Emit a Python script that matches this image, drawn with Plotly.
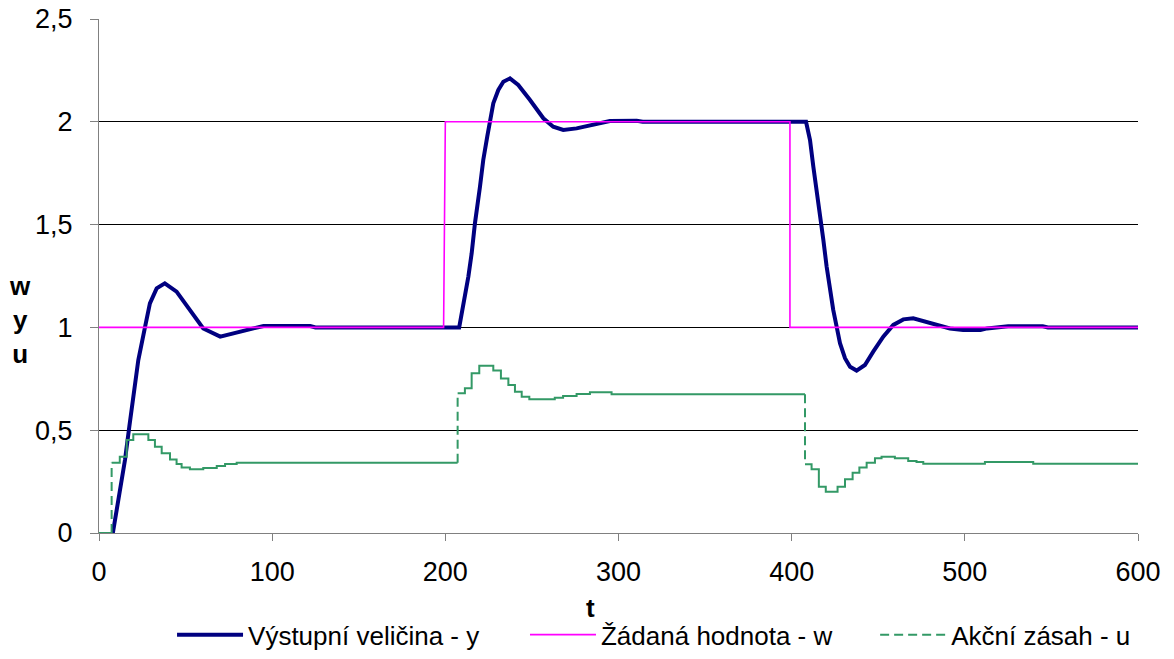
import plotly.graph_objects as go

# ---- data ----
t_y = [8, 12, 15, 17.5, 20, 22.7, 26.6, 29.4, 33.3, 38, 44.8, 52.5, 60.2, 70, 79.5, 89, 95, 122, 125, 208,
       210.4, 213.3, 215.2, 217.1, 220, 221.9, 224.2, 225.8, 227.7, 230.6, 233.5, 237.3, 242.1, 248.9, 256.6,
       262.3, 268.1, 275.8, 283.5, 295, 310.5, 314, 408.3, 410.6, 412.5, 414.4, 416.4, 418.3, 420.2, 422.1,
       424, 426, 427.9, 430.8, 433.7, 437.5, 442.3, 447.1, 452.9, 458.7, 464.5, 470.2, 477.9, 485.6, 491.4,
       499, 509, 512.9, 525, 545, 548, 600]
y_vals = [0, 0.195, 0.355, 0.517, 0.679, 0.841, 1.003, 1.117, 1.19, 1.214, 1.174, 1.085, 0.995, 0.955, 0.974,
          0.995, 1.007, 1.007, 1.0, 1.0, 1.101, 1.247, 1.36, 1.506, 1.684, 1.814, 1.928, 2.0, 2.09, 2.155,
          2.195, 2.211, 2.179, 2.106, 2.017, 1.976, 1.96, 1.968, 1.984, 2.004, 2.005, 2.0, 2.0, 1.911, 1.782,
          1.668, 1.571, 1.425, 1.295, 1.182, 1.085, 1.003, 0.923, 0.85, 0.809, 0.79, 0.817, 0.882, 0.955,
          1.012, 1.039, 1.044, 1.028, 1.007, 0.995, 0.987, 0.987, 0.995, 1.005, 1.005, 1.0, 1.0]

t_w = [0, 199, 200, 399, 399, 600]
w_vals = [1, 1, 2, 2, 1, 1]

t_u = [0, 7.3, 12, 16, 19.8, 28.5, 32.3, 36.2, 41, 44.8, 47.7, 52.5, 60.2, 68, 72.8, 79.5, 207.1, 211.3,
       215.2, 219.6, 227.7, 232.1, 236.4, 240.2, 244.1, 248.5, 263.2, 268, 275.8, 283.5, 296, 407.7, 411.5,
       415.7, 419.7, 426.5, 430.8, 435.2, 439.1, 443.3, 448.1, 451.9, 459.6, 467.3, 472.1, 476, 511.6,
       539.5, 600]
u_vals = [0, 0.342, 0.371, 0.452, 0.48, 0.452, 0.42, 0.388, 0.358, 0.336, 0.319, 0.31, 0.316, 0.326, 0.336,
          0.342, 0.68, 0.704, 0.777, 0.814, 0.79, 0.752, 0.72, 0.687, 0.663, 0.65, 0.658, 0.666, 0.676, 0.684,
          0.675, 0.334, 0.31, 0.225, 0.201, 0.225, 0.261, 0.293, 0.318, 0.342, 0.363, 0.371, 0.363, 0.35,
          0.345, 0.337, 0.345, 0.337, 0.337]

x_ticks = [0, 100, 200, 300, 400, 500, 600]
y_ticks = [0, 0.5, 1, 1.5, 2, 2.5]

names = ["Výstupní veličina - y", "Žádaná hodnota - w", "Akční zásah - u"]
NAVY, MAGENTA, GREEN = "#000080", "#FF00FF", "#339966"
FONT = "Liberation Sans, Arial, sans-serif"

# staircase for u: small steps solid, large jumps dashed
sx, sy, dx, dy = [t_u[0]], [u_vals[0]], [], []
for i in range(1, len(t_u)):
    prev = u_vals[i - 1]
    if abs(u_vals[i] - prev) > 0.2:
        sx += [t_u[i], None, t_u[i]]
        sy += [prev, None, u_vals[i]]
        dx += [t_u[i], t_u[i], None]
        dy += [prev, u_vals[i], None]
    else:
        sx += [t_u[i], t_u[i]]
        sy += [prev, u_vals[i]]

fig = go.Figure()
fig.add_trace(go.Scatter(x=t_y, y=y_vals, mode="lines", name=names[0], legend="legend",
                         line=dict(color=NAVY, width=4)))
fig.add_trace(go.Scatter(x=t_w, y=w_vals, mode="lines", name=names[1], legend="legend2",
                         line=dict(color=MAGENTA, width=1.6)))
fig.add_trace(go.Scatter(x=sx, y=sy, mode="lines", showlegend=False, connectgaps=False,
                         line=dict(color=GREEN, width=2), hoverinfo="skip"))
fig.add_trace(go.Scatter(x=dx, y=dy, mode="lines", name=names[2], legend="legend3", connectgaps=False,
                         line=dict(color=GREEN, width=2, dash="9px,5px")))

leg_common = dict(orientation="h", xanchor="left", y=-0.198, yanchor="middle",
                  font=dict(family=FONT, size=26, color="black"), itemwidth=66,
                  bgcolor="rgba(0,0,0,0)")

fig.update_layout(
    width=1174, height=659,
    margin=dict(l=99, r=36, t=19, b=126, autoexpand=False),
    paper_bgcolor="white", plot_bgcolor="white",
    separators=", ",
    font=dict(family=FONT, size=27, color="black"),
    showlegend=True,
    legend=dict(x=0.0703, **leg_common),
    legend2=dict(x=0.410, **leg_common),
    legend3=dict(x=0.747, **leg_common),
    xaxis=dict(range=[0, 600], tickvals=x_ticks, showgrid=False, zeroline=False,
               showline=True, linecolor="#808080", linewidth=1,
               ticks="outside", ticklen=7, tickcolor="#808080",
               tickfont=dict(size=27), ticklabelstandoff=8),
    yaxis=dict(range=[0, 2.5], tickvals=y_ticks, showgrid=True, gridcolor="black", gridwidth=1,
               zeroline=False, showline=True, linecolor="#808080", linewidth=1,
               ticks="outside", ticklen=8, tickcolor="#808080",
               tickfont=dict(size=27), ticklabelstandoff=12),
    annotations=[
        dict(text="<b>t</b>", xref="paper", yref="paper", x=0.4735, y=-0.146,
             xanchor="center", yanchor="middle", showarrow=False, font=dict(size=26)),
        dict(text="<b>w<br>y<br>u</b>", xref="paper", yref="paper", x=-0.076, y=0.414,
             xanchor="center", yanchor="middle", showarrow=False, font=dict(size=26)),
    ],
)

fig.write_html("out.html")
